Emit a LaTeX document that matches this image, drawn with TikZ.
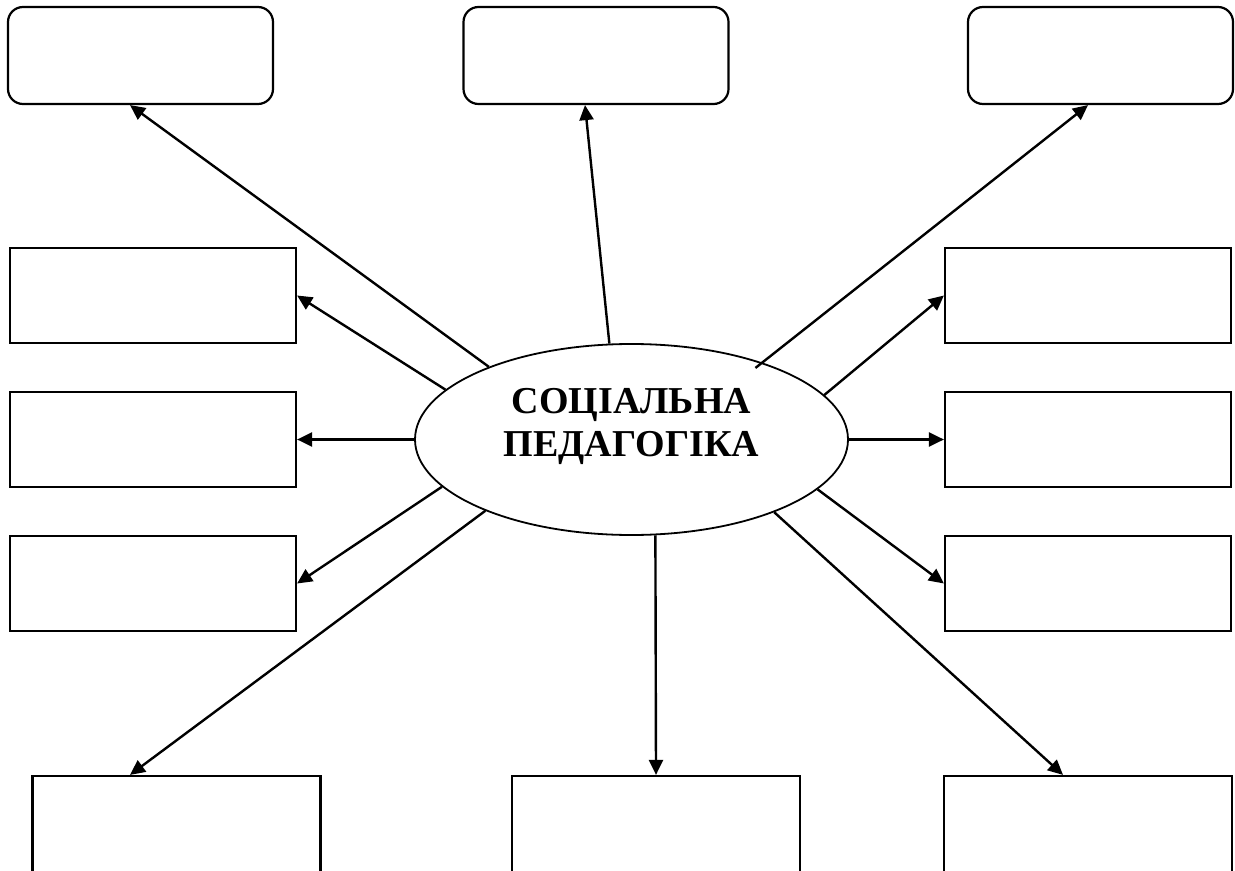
\documentclass[tikz,border=0pt]{standalone}
\usepackage{fontspec}
\setmainfont{Liberation Serif}
\usepackage{tikz}
\usetikzlibrary{shapes.geometric, arrows.meta, positioning, calc}

\begin{document}
\begin{tikzpicture}[x=0.5pt, y=-0.5pt, >={Triangle[length=7.5pt,width=7pt]},
    topbox/.style={draw, rounded corners=7.5pt, line width=1.1pt, minimum width=132.5pt, minimum height=48.5pt},
    sidebox/.style={draw, line width=1.1pt, minimum width=143pt, minimum height=47.5pt},
    lowbox/.style={draw, line width=1.1pt, minimum width=144pt, minimum height=70pt},
    link/.style={->, line width=1.2pt}]
    \useasboundingbox (0,0) rectangle (1235,871);
    \clip (0,0) rectangle (1235,871);

    % Central ellipse
    \node[ellipse, draw, line width=0.9pt, minimum width=216.5pt, minimum height=95.5pt, inner sep=0pt] (soc) at (631.5,439.5) {};
    \node[font=\fontsize{19}{21.5}\selectfont\bfseries, align=center] (soctext) at ([yshift=6.5pt]soc.center) {СОЦІАЛЬНА\\ПЕДАГОГІКА};

    % Top row (rounded)
    \node[topbox] (topL) at (140.5,55.5) {};
    \node[topbox] (topM) at (596,55.5) {};
    \node[topbox] (topR) at (1100.5,55.5) {};

    % Left column
    \node[sidebox] (left1) at (153,295.5) {};
    \node[sidebox] (left2) at (153,439.5) {};
    \node[sidebox] (left3) at (153,583.5) {};

    % Right column
    \node[sidebox] (right1) at (1088,295.5) {};
    \node[sidebox] (right2) at (1088,439.5) {};
    \node[sidebox] (right3) at (1088,583.5) {};

    % Bottom row (cut by the page edge)
    \node[lowbox] (lowL) at (176.5,846) {};
    \node[lowbox] (lowM) at (656,846) {};
    \node[lowbox] (lowR) at (1088,846) {};

    % Arrows up
    \draw[link] (soc.153.2) -- ([xshift=-5.25pt]topL.south);
    \draw[link] (soc.103.8) -- ([xshift=-5.5pt]topM.south);
    \draw[link] ($(soc.center)!0.936!(soc.30.5)$) -- ([xshift=-6.25pt]topR.south);

    % Arrows to the sides
    \draw[link] (soc.165.8) -- (left1.east);
    \draw[link] (soc.west) -- (left2.east);
    \draw[link] (soc.194.2) -- (left3.east);
    \draw[link] (soc.13.8) -- (right1.west);
    \draw[link] (soc.east) -- (right2.west);
    \draw[link] (soc.345.6) -- (right3.west);

    % Arrows down
    \draw[link] (soc.206.8) -- ([xshift=-23.25pt]lowL.north);
    \draw[link] (soc.284.4) -- (lowM.north);
    \draw[link] (soc.333.4) -- ([xshift=-12.5pt]lowR.north);
\end{tikzpicture}
\end{document}
